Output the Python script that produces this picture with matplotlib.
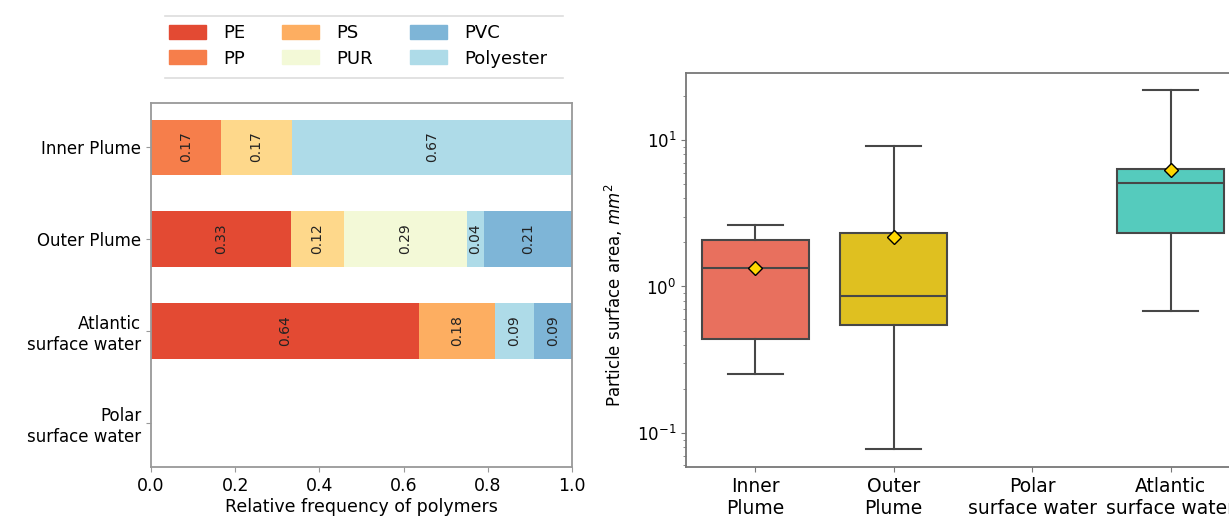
import numpy as np
import matplotlib.pyplot as plt
from matplotlib.patches import Patch
from matplotlib.lines import Line2D

# left panel: polymer shares per sample (stack order)
samples = ['Inner Plume', 'Outer Plume', 'Atlantic\nsurface water', 'Polar\nsurface water']
polymers = ['PE', 'PP', 'PS', 'Other', 'PUR', 'Polyester', 'PVC']
pe = [0.0, 0.333, 0.636, 0.0]
pp = [0.167, 0.0, 0.0, 0.0]
ps = [0.0, 0.0, 0.182, 0.0]
other = [0.167, 0.125, 0.0, 0.0]
pur = [0.0, 0.292, 0.0, 0.0]
polyester = [0.667, 0.042, 0.091, 0.0]
pvc = [0.0, 0.208, 0.091, 0.0]
shares = [pe, pp, ps, other, pur, polyester, pvc]
poly_colors = ['#e34a33', '#f67e4b', '#fdae61', '#fed88b', '#f3f9d7', '#aedbe8', '#7eb5d7']
legend_order = ['PE', 'PP', 'PS', 'PUR', 'PVC', 'Polyester']

# right panel: particle surface area box stats (mm^2)
box_labels = ['Inner\nPlume', 'Outer\nPlume', 'Polar\nsurface water', 'Atlantic\nsurface water']
box_pos = [0, 1, 3]
whislo = [0.251, 0.078, 0.679]
q1 = [0.437, 0.548, 2.31]
med = [1.33, 0.864, 5.12]
q3 = [2.08, 2.31, 6.38]
whishi = [2.61, 9.1, 21.9]
means = [1.33, 2.19, 6.24]
box_colors = ['#e8705e', '#dfc020', '#55cbbd']

W, H = 1229, 518
fig = plt.figure(figsize=(W / 100, H / 100), dpi=100)

# ---- left: stacked horizontal bars
ax1 = fig.add_axes([151 / W, 1 - 467 / H, (572 - 151) / W, (467 - 103) / H])
y = np.arange(len(samples))[::-1]
left = np.zeros(len(samples))
for name, vals, c in zip(polymers, shares, poly_colors):
    vals = np.array(vals)
    ax1.barh(y, vals, left=left, height=0.6, color=c, label=name)
    for yi, l, v in zip(y, left, vals):
        if v > 0:
            ax1.text(l + v / 2, yi, f'{v:.2f}', rotation=90, ha='center', va='center',
                     fontsize=10, color='#222222')
    left += vals
ax1.set_xlim(0, 1)
ax1.set_ylim(-0.48, 3.48)
ax1.set_yticks(y)
ax1.set_yticklabels(samples, fontsize=12)
ax1.tick_params(axis='x', labelsize=12.5)
ax1.set_xlabel('Relative frequency of polymers', fontsize=12.5, labelpad=2)
for s in ax1.spines.values():
    s.set_color('#999999')
    s.set_linewidth(1.3)
ax1.tick_params(color='#999999')

handles = [Patch(color=poly_colors[polymers.index(n)]) for n in legend_order]
fig.legend(handles, legend_order, loc='center', bbox_to_anchor=(358 / W, 1 - 46 / H),
           ncol=3, frameon=False, fontsize=13, handlelength=2.05, handleheight=0.8,
           handletextpad=0.95, columnspacing=2.05, labelspacing=0.4)
for yy in [15.5, 77.5]:
    fig.add_artist(Line2D([165 / W, 563 / W], [1 - yy / H] * 2, color='#dddddd', lw=1.2))

# ---- right: boxplot on log scale
ax2 = fig.add_axes([686 / W, 1 - 467 / H, (1240 - 686) / W, (467 - 72.7) / H])
stats = []
for i in range(len(box_pos)):
    stats.append(dict(whislo=whislo[i], q1=q1[i], med=med[i], q3=q3[i],
                      whishi=whishi[i], mean=means[i], fliers=[]))
edge = '#474747'
bp = ax2.bxp(stats, positions=box_pos, widths=0.77, patch_artist=True, showmeans=True,
             capwidths=0.4,
             boxprops=dict(edgecolor=edge, linewidth=1.5),
             medianprops=dict(color=edge, linewidth=1.5),
             whiskerprops=dict(color=edge, linewidth=1.5),
             capprops=dict(color=edge, linewidth=1.5),
             meanprops=dict(marker='D', markerfacecolor='#ffd700', markeredgecolor='black',
                            markersize=7.5))
for patch, c in zip(bp['boxes'], box_colors):
    patch.set_facecolor(c)
ax2.set_yscale('log')
ax2.set_ylim(0.0586, 28.8)
ax2.set_xlim(-0.5, 3.5)
ax2.set_xticks(range(len(box_labels)))
ax2.set_xticklabels(box_labels, fontsize=13.5)
ax2.tick_params(axis='y', labelsize=12)
ax2.set_ylabel('Particle surface area, $mm^2$', fontsize=12)
ax2.yaxis.set_label_coords(-0.11, 0.436)
for s in ax2.spines.values():
    s.set_color('#777777')
    s.set_linewidth(1.3)
ax2.tick_params(which='both', color='#777777')

fig.savefig('out.png', dpi=100)
